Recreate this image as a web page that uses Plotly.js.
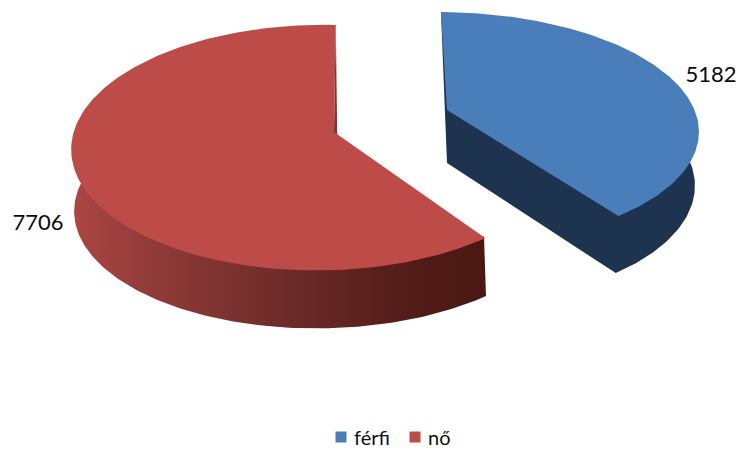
<!DOCTYPE html>
<html><head><meta charset="utf-8">
<script src="https://cdn.plot.ly/plotly-3.0.0.min.js"></script>
<style>html,body{margin:0;padding:0;background:#fff}</style></head>
<body><div id="chart" style="width:738px;height:449px"></div>
<script>
const categories = ["férfi", "nő"];
const seriesValues = [5182, 7706];
const faceColors = ["#4a7ebb", "#bd4c49"];
const wallColor = "#1d3350";
const FONT = "Lato, Carlito, sans-serif";
const total = seriesValues.reduce((a, b) => a + b, 0);
const splitDeg = 360 * seriesValues[0] / total;

// perspective projection of a unit disc onto the plot's pixel-sized axes
const view = {
  blueTop: {cx:447, cy:110, a:250, b:113.7, k:.16, m:.01, s:-7},
  blueWall:{cx:447, cy:110, a:248, b:111.7, k:.16, m:.01, s:-7},
  blueBot: {cx:447, cy:163, a:246, b:118, k:.16, m:.01, s:-7},
  redTop:  {cx:334, cy:132, a:246, b:120.6, k:.127, m:.055, s:2},
  redWall: {cx:334, cy:132, a:244, b:118.6, k:.127, m:.055, s:2},
  redBot:  {cx:338, cy:194, a:243, b:117, k:.127, m:.07, s:2}
};
function P(p, deg) {
  const t = deg * Math.PI / 180, u = Math.sin(t), v = Math.cos(t), w = 1 + p.k * v + p.m * u;
  return [p.cx + (p.a * u + p.s * v) / w, p.cy - p.b * v / w];
}
function arc(p, d0, d1) {
  const n = Math.ceil(Math.abs(d1 - d0)), out = [];
  for (let i = 0; i <= n; i++) out.push(P(p, d0 + (d1 - d0) * i / n));
  return out;
}
function poly(points, extra) {
  return Object.assign({
    x: points.map(q => q[0]), y: points.map(q => q[1]),
    type: "scatter", mode: "lines", fill: "toself", hoverinfo: "skip", showlegend: false,
    line: {width: 0}
  }, extra);
}
const traces = [];
const blueApex = [view.blueTop.cx, view.blueTop.cy], blueApexLow = [view.blueBot.cx, view.blueBot.cy];
const redApex = [view.redTop.cx, view.redTop.cy], redApexLow = [view.redBot.cx, view.redBot.cy];
// blue slice walls, one outline so no seams show
traces.push(poly([P(view.blueTop, 0), blueApexLow, ...arc(view.blueBot, splitDeg, 60), ...arc(view.blueWall, 60, 0)], {fillcolor: wallColor}));
// red slice walls
traces.push(poly([P(view.redTop, 360), redApex, redApexLow], {fillcolor: "#8a2f2e"}));
traces.push(poly([...arc(view.redWall, splitDeg, 300), ...arc(view.redBot, 300, splitDeg)], {
  fillcolor: "rgba(0,0,0,0)",
  fillgradient: {type: "horizontal", colorscale: [[0, "#ab4644"], [.2, "#8f3a38"], [.5, "#6e2c2a"], [.8, "#531d19"], [1, "#4a1712"]]}
}));
// top faces
traces.push(poly([blueApex, ...arc(view.blueTop, 0, splitDeg)], {fillcolor: faceColors[0]}));
traces.push(poly([redApex, ...arc(view.redTop, splitDeg, 360)], {fillcolor: faceColors[1]}));
// legend entries
categories.forEach((c, i) => traces.push({
  x: [null], y: [null], type: "scatter", mode: "markers", name: c,
  marker: {symbol: "square", size: 11, color: faceColors[i]}, hoverinfo: "skip"
}));
// value labels
traces.push({
  x: [711, 38], y: [76, 224], text: seriesValues.map(String),
  type: "scatter", mode: "text", textposition: "middle center", showlegend: false, hoverinfo: "skip",
  textfont: {family: FONT, size: 22, color: "#0a0a0a"}
});
Plotly.newPlot("chart", traces, {
  width: 738, height: 449, margin: {l:0, r:0, t:0, b:0, autoexpand: false},
  paper_bgcolor: "#fff", plot_bgcolor: "#fff", hovermode: false,
  xaxis: {range: [0, 738], visible: false, fixedrange: true},
  yaxis: {range: [449, 0], visible: false, fixedrange: true},
  legend: {orientation: "h", x: 314/738, xanchor: "left", y: 12/449, yanchor: "middle", itemwidth: 30,
    entrywidth: 29, entrywidthmode: "pixels",
    font: {family: FONT, size: 20, color: "#111"}, bgcolor: "rgba(0,0,0,0)", tracegroupgap: 0},
  showlegend: true
}, {displayModeBar: false, staticPlot: true}).then(() => {
  // the reference keeps its legend swatches close to their labels
  document.querySelectorAll("#chart .legend .legendpoints").forEach(g => g.setAttribute("transform", "translate(7,0)"));
});
</script></body></html>
